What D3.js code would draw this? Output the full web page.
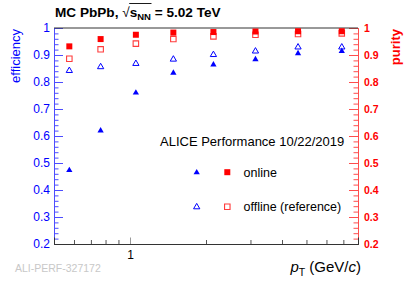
<!DOCTYPE html>
<html>
<head>
<meta charset="utf-8">
<script src="https://cdn.jsdelivr.net/npm/d3@7"></script>
<style>
  html, body { margin: 0; padding: 0; background: #fff; }
  svg { display: block; font-family: "Liberation Sans", Arial, Helvetica, sans-serif; }
</style>
</head>
<body>
<div id="chart"></div>
<script>
// values
const ptCenters = [0.575, 0.765, 1.055, 1.485, 2.14, 3.14, 4.63, 6.9];
const effOnline = [0.473, 0.620, 0.760, 0.834, 0.864, 0.884, 0.906, 0.914];
const effOffline = [0.842, 0.856, 0.868, 0.884, 0.901, 0.914, 0.929, 0.929];
const purOnline = [0.932, 0.959, 0.975, 0.983, 0.985, 0.987, 0.988, 0.988];
const purOffline = [0.886, 0.921, 0.942, 0.959, 0.969, 0.975, 0.978, 0.980];
const yTickValues = [0.2, 0.3, 0.4, 0.5, 0.6, 0.7, 0.8, 0.9, 1];
const xMajorTicks = [1];

(function () {
  const width = 415, height = 281;
  const margin = { top: 28, right: 57, bottom: 37, left: 54 };
  const innerW = width - margin.left - margin.right;
  const innerH = height - margin.top - margin.bottom;

  const BLUE = "#0000ff";
  const RED = "#ff0000";

  const svg = d3.select("#chart").append("svg")
    .attr("width", width)
    .attr("height", height);

  const g = svg.append("g")
    .attr("transform", `translate(${margin.left},${margin.top})`);

  const x = d3.scaleLog().domain([0.5, 8]).range([0, innerW]);
  const y = d3.scaleLinear().domain([0.2, 1]).range([innerH, 0]);

  // ---- axes ----
  const fmt = d => (d === 1 ? "1" : d3.format(".1f")(d));

  // left (efficiency), blue, ticks inside
  const leftMinor = g.append("g")
    .call(d3.axisLeft(y).tickValues(y.ticks(40)).tickSize(-4.5).tickFormat(""));
  const leftMajor = g.append("g")
    .call(d3.axisLeft(y).tickValues(yTickValues).tickSize(-9).tickPadding(4).tickFormat(fmt));
  [leftMinor, leftMajor].forEach(a => {
    a.selectAll("line").attr("stroke", "#4d4dff");
    a.select(".domain").attr("stroke", "#4d4dff");
  });
  leftMajor.selectAll("text")
    .attr("fill", BLUE)
    .style("font-size", "12px");

  // right (purity), red, ticks inside
  const rightMinor = g.append("g")
    .attr("transform", `translate(${innerW},0)`)
    .call(d3.axisRight(y).tickValues(y.ticks(40)).tickSize(-4.5).tickFormat(""));
  const rightMajor = g.append("g")
    .attr("transform", `translate(${innerW},0)`)
    .call(d3.axisRight(y).tickValues(yTickValues).tickSize(-9).tickPadding(6).tickFormat(fmt));
  [rightMinor, rightMajor].forEach(a => {
    a.selectAll("line").attr("stroke", "#ff4d4d");
    a.select(".domain").attr("stroke", "#ff4d4d");
  });
  rightMajor.selectAll("text")
    .attr("fill", RED)
    .style("font-size", "10.5px")
    .style("font-weight", "bold");

  // bottom (pT), log, ticks inside
  const xMinorVals = x.ticks().filter(v => !xMajorTicks.includes(v) && v > 0.5 && v < 8);
  const bottomMinor = g.append("g")
    .attr("transform", `translate(0,${innerH})`)
    .call(d3.axisBottom(x).tickValues(xMinorVals).tickSize(-4).tickFormat(""));
  const bottomMajor = g.append("g")
    .attr("transform", `translate(0,${innerH})`)
    .call(d3.axisBottom(x).tickValues(xMajorTicks).tickSize(-6.5).tickPadding(6).tickFormat(d3.format("d")));
  [bottomMinor, bottomMajor].forEach(a => {
    a.selectAll("line").attr("stroke", "#555");
    a.select(".domain").attr("stroke", "#333");
  });
  bottomMajor.selectAll(".tick line").attr("stroke", "#999");
  bottomMajor.selectAll("text")
    .attr("fill", "#000")
    .style("font-size", "12px");

  // top frame
  g.append("line")
    .attr("x1", 0).attr("x2", innerW)
    .attr("y1", 0).attr("y2", 0)
    .attr("stroke", "#333");

  // ---- markers ----
  const square = d3.symbol().type(d3.symbolSquare).size(36);
  const squareOpen = d3.symbol().type(d3.symbolSquare).size(30);
  const tri = d3.symbol().type(d3.symbolTriangle).size(17);
  const triOpen = d3.symbol().type(d3.symbolTriangle).size(17);

  const series = [
    { vals: purOffline, path: squareOpen(), fill: "none", stroke: "#ff3b3b", sw: 1.1 },
    { vals: purOnline, path: square(), fill: RED, stroke: "none", sw: 0 },
    { vals: effOffline, path: triOpen(), fill: "none", stroke: BLUE, sw: 1 },
    { vals: effOnline, path: tri(), fill: BLUE, stroke: "none", sw: 0 }
  ];

  series.forEach(s => {
    g.append("g").selectAll("path")
      .data(ptCenters.map((pt, i) => ({ pt, v: s.vals[i] })))
      .join("path")
      .attr("d", s.path)
      .attr("transform", d => `translate(${x(d.pt)},${y(d.v)})`)
      .attr("fill", s.fill)
      .attr("stroke", s.stroke)
      .attr("stroke-width", s.sw);
  });

  // ---- legend ----
  const leg = svg.append("g");
  const legRows = [
    { label: "online", tri: tri(), sq: square(), filled: true, ty: 172.5 },
    { label: "offline (reference)", tri: triOpen(), sq: squareOpen(), filled: false, ty: 207 }
  ];
  legRows.forEach(r => {
    leg.append("path")
      .attr("d", r.tri)
      .attr("transform", `translate(196.7,${r.ty})`)
      .attr("fill", r.filled ? BLUE : "none")
      .attr("stroke", r.filled ? "none" : BLUE)
      .attr("stroke-width", 1);
    leg.append("path")
      .attr("d", r.sq)
      .attr("transform", `translate(227.3,${r.ty - 0.3})`)
      .attr("fill", r.filled ? RED : "none")
      .attr("stroke", r.filled ? "none" : "#ff3b3b")
      .attr("stroke-width", 1.1);
    leg.append("text")
      .attr("x", 243.5)
      .attr("y", r.ty + 4.3)
      .style("font-size", "12.5px")
      .attr("fill", "#000")
      .text(r.label);
  });

  svg.append("text")
    .attr("x", 160)
    .attr("y", 145.6)
    .style("font-size", "13px")
    .attr("fill", "#000")
    .text("ALICE Performance 10/22/2019");

  // ---- axis titles ----
  svg.append("text")
    .attr("transform", "translate(19.5,29) rotate(-90)")
    .attr("text-anchor", "end")
    .style("font-size", "13px")
    .attr("fill", BLUE)
    .text("efficiency");

  svg.append("text")
    .attr("transform", "translate(399.5,29) rotate(-90)")
    .attr("text-anchor", "end")
    .style("font-size", "13px")
    .style("font-weight", "bold")
    .attr("fill", RED)
    .text("purity");

  const xl = svg.append("text")
    .attr("x", 361)
    .attr("y", 272)
    .attr("text-anchor", "end")
    .style("font-size", "15px")
    .attr("fill", "#000");
  xl.append("tspan").style("font-style", "italic").text("p");
  xl.append("tspan").attr("dy", 4).style("font-size", "10.5px").text("T");
  xl.append("tspan").attr("dy", -4).text(" (GeV/");
  xl.append("tspan").style("font-style", "italic").text("c");
  xl.append("tspan").text(")");

  // ---- title ----
  const title = svg.append("text")
    .attr("x", 55)
    .attr("y", 16.5)
    .style("font-size", "13.6px")
    .style("font-weight", "bold")
    .attr("fill", "#000");
  title.append("tspan").text("MC PbPb, ");
  title.append("tspan").style("font-weight", "normal").text("\u221A");
  title.append("tspan").text("s");
  title.append("tspan").attr("dy", 3).style("font-size", "9.5px").text("NN");
  title.append("tspan").attr("dy", -3).text(" = 5.02 TeV");

  // overline of the square root over s_NN
  const tNode = title.node();
  const startIdx = "MC PbPb, \u221A".length;
  const endIdx = startIdx + 2; // last char of "sNN"
  const ext0 = tNode.getExtentOfChar(startIdx);
  const ext1 = tNode.getExtentOfChar(endIdx);
  svg.append("line")
    .attr("x1", ext0.x - 0.5)
    .attr("x2", ext1.x + ext1.width + 0.5)
    .attr("y1", 3.5).attr("y2", 3.5)
    .attr("stroke", "#000")
    .attr("stroke-width", 0.9);

  // watermark
  svg.append("text")
    .attr("x", 15)
    .attr("y", 272)
    .style("font-size", "10.5px")
    .attr("fill", "#c8c8c8")
    .text("ALI-PERF-327172");
})();
</script>
</body>
</html>
